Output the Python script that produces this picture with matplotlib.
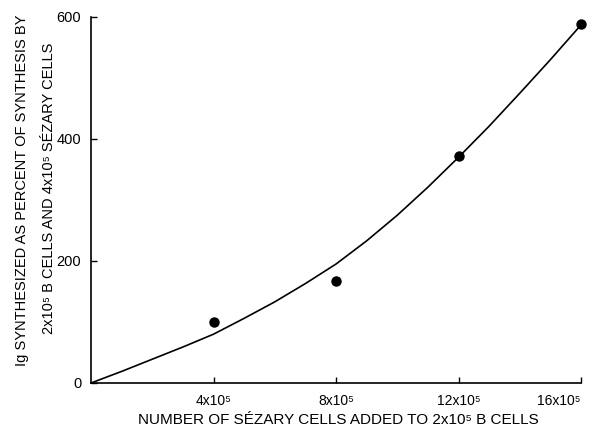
import matplotlib
matplotlib.use("Agg")
import matplotlib.pyplot as plt

plt.rcParams['font.family'] = ['Liberation Sans', 'DejaVu Sans']

# data (x in units of 10^5 cells)
point_x = [4, 8, 12, 16]
point_y = [100, 168, 372, 588]
curve_x = [0, 1, 2, 3, 4, 5, 6, 7, 8, 9, 10, 11, 12, 13, 14, 15, 16]
curve_y = [0, 19, 39, 59, 80, 106, 133, 163, 195, 233, 275, 321, 370, 421, 475, 530, 587]
xtick_vals = [4, 8, 12, 16]
xtick_labels = ["4x10\u2075", "8x10\u2075", "12x10\u2075", "16x10\u2075"]
ytick_vals = [0, 200, 400, 600]
xlabel = "NUMBER OF S\u00c9ZARY CELLS ADDED TO 2x10\u2075 B CELLS"
ylabel1 = "Ig SYNTHESIZED AS PERCENT OF SYNTHESIS BY"
ylabel2 = "2x10\u2075 B CELLS AND 4x10\u2075 S\u00c9ZARY CELLS"

W, H = 601, 433
fig = plt.figure(figsize=(W / 100, H / 100), dpi=100)
ax = fig.add_axes([91 / W, (H - 383) / H, 490 / W, 366 / H])

ax.plot(curve_x, curve_y, color='black', lw=1.2, solid_capstyle='round')
ax.plot(point_x, point_y, 'o', color='black', ms=6.5)

ax.set_xlim(0, 16)
ax.set_ylim(0, 600)
ax.set_xticks(xtick_vals)
ax.set_xticklabels(xtick_labels, fontsize=10)
ax.set_yticks(ytick_vals)
ax.set_yticklabels([str(v) for v in ytick_vals], fontsize=10.5)
ax.tick_params(direction='in', length=4, width=1, pad=7)
ax.tick_params(axis='x', pad=8)
labels = ax.get_xticklabels()
labels[-1].set_horizontalalignment('right')
for s in ['top', 'right']:
    ax.spines[s].set_visible(False)
for s in ['left', 'bottom']:
    ax.spines[s].set_linewidth(1.2)
for l in ax.get_lines():
    l.set_clip_on(False)

fig.text(338 / W, 1 - 420 / H, xlabel, fontsize=11, ha='center', va='center')
fig.text(22 / W, 1 - 190 / H, ylabel1, fontsize=10.5, ha='center', va='center', rotation=90)
fig.text(49 / W, 1 - 188 / H, ylabel2, fontsize=10.5, ha='center', va='center', rotation=90)

fig.savefig("out.png", dpi=100, facecolor='white')
